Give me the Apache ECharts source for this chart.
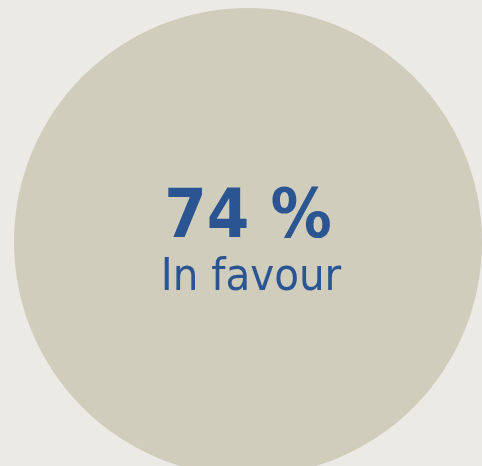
<!DOCTYPE html>
<html><head><meta charset="utf-8">
<script src="https://cdn.jsdelivr.net/npm/echarts@6/dist/echarts.min.js"></script>
<style>html,body{margin:0;padding:0;background:#ebeae5;}#c{width:482px;height:466px;}</style>
</head><body><div id="c"></div>
<script>
const categories = ['In favour'];
const values = [74];
const unit = ' %';

const chart = echarts.init(document.getElementById('c'), null, {renderer:'canvas'});
chart.setOption({
  backgroundColor: '#ebeae5',
  animation: false,
  series: [{
    type: 'pie',
    silent: true,
    center: [248, 242],
    radius: [0, 234],
    startAngle: 90,
    itemStyle: {color: '#d0cdbc', borderWidth: 0},
    label: {
      show: true,
      position: 'center',
      offset: [0, 3],
      formatter: p => '{a|' + p.value + unit + '}\n{b|' + p.name + '}',
      rich: {
        a: {fontFamily: 'DejaVu Sans Condensed', fontWeight: 'bold', fontSize: 68, color: '#2b5590', lineHeight: 66, align: 'center'},
        b: {fontFamily: 'DejaVu Sans Condensed', fontSize: 45, color: '#2b5590', lineHeight: 52, align: 'center', padding: [0, 0, 0, 6]}
      }
    },
    labelLine: {show: false},
    data: categories.map((c, i) => ({name: c, value: values[i]}))
  }]
});
</script></body></html>
